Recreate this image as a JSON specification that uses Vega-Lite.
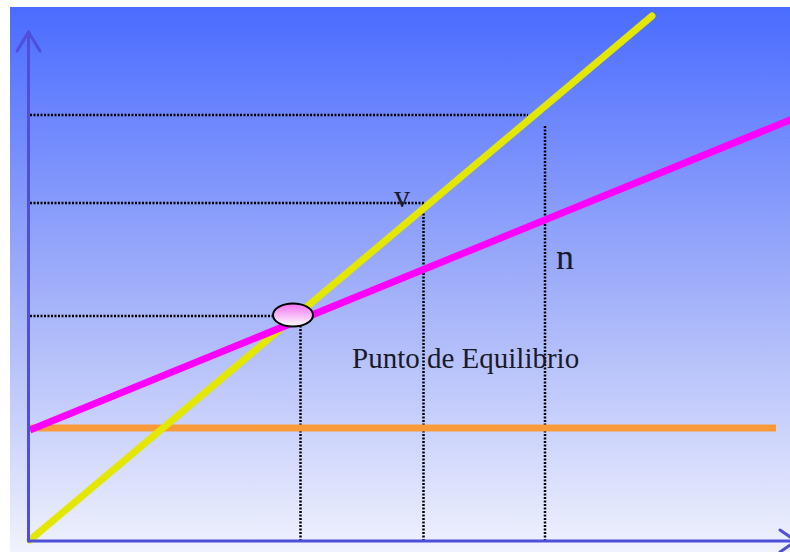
{
  "$schema": "https://vega.github.io/schema/vega-lite/v6.json",
  "width": 790,
  "height": 552,
  "autosize": {"type": "none"},
  "padding": 0,
  "background": "white",
  "config": {"view": {"stroke": null}},
  "encoding": {
    "x": {"field": "x", "type": "quantitative", "scale": {"domain": [-30, 760], "nice": false, "zero": false}, "axis": null},
    "y": {"field": "y", "type": "quantitative", "scale": {"domain": [-11, 541], "nice": false, "zero": false}, "axis": null}
  },
  "layer": [
    {
      "data": {"values": [{"x": -20, "x2": 760, "y": -11, "y2": 534}]},
      "mark": {"type": "rect", "fill": {"gradient": "linear", "x1": 0, "y1": 0, "x2": 0, "y2": 1, "stops": [{"offset": 0, "color": "#4a6cff"}, {"offset": 0.5, "color": "#9eadf9"}, {"offset": 1, "color": "#f0f2fd"}]}},
      "encoding": {"x2": {"field": "x2"}, "y2": {"field": "y2"}}
    },
    {
      "data": {"values": [
        {"x": 0, "y": 426, "x2": 498, "y2": 426},
        {"x": 0, "y": 338, "x2": 394, "y2": 338},
        {"x": 0, "y": 225, "x2": 245, "y2": 225},
        {"x": 270.5, "y": 0, "x2": 270.5, "y2": 215},
        {"x": 393.5, "y": 0, "x2": 393.5, "y2": 338},
        {"x": 515, "y": 0, "x2": 515, "y2": 415}
      ]},
      "mark": {"type": "rule", "color": "black", "strokeWidth": 2.5, "strokeDash": [2, 1.5]},
      "encoding": {"x2": {"field": "x2"}, "y2": {"field": "y2"}}
    },
    {
      "data": {"values": [{"x": 0, "y": 113, "x2": 746, "y2": 113}]},
      "mark": {"type": "rule", "color": "#f99b3b", "strokeWidth": 7},
      "encoding": {"x2": {"field": "x2"}, "y2": {"field": "y2"}}
    },
    {
      "data": {"values": [{"x": 0, "y": 1, "x2": 622, "y2": 525}]},
      "mark": {"type": "rule", "color": "#e4e800", "strokeWidth": 7, "strokeCap": "round"},
      "encoding": {"x2": {"field": "x2"}, "y2": {"field": "y2"}}
    },
    {
      "data": {"values": [{"x": 0, "y": 111, "x2": 765, "y2": 423}]},
      "mark": {"type": "rule", "color": "#ff00ff", "strokeWidth": 7},
      "encoding": {"x2": {"field": "x2"}, "y2": {"field": "y2"}}
    },
    {
      "data": {"values": [
        {"x": -1.5, "y": 0, "x2": -1.5, "y2": 509},
        {"x": -13, "y": 490, "x2": -1.5, "y2": 509},
        {"x": 10, "y": 490, "x2": -1.5, "y2": 509},
        {"x": -1.5, "y": 0, "x2": 766, "y2": 0},
        {"x": 750, "y": 11, "x2": 766, "y2": 0},
        {"x": 750, "y": -11, "x2": 766, "y2": 0}
      ]},
      "mark": {"type": "rule", "color": "#4f4fd8", "strokeWidth": 3, "strokeCap": "round"},
      "encoding": {"x2": {"field": "x2"}, "y2": {"field": "y2"}}
    },
    {
      "data": {"values": [{"x": 263, "y": 226}]},
      "mark": {"type": "point", "filled": true, "size": 1600, "shape": "M -1 0 A 1 0.575 0 1 0 1 0 A 1 0.575 0 1 0 -1 0 Z", "opacity": 1, "stroke": "black", "strokeWidth": 2, "fill": {"gradient": "linear", "x1": 0, "y1": 0, "x2": 0, "y2": 1, "stops": [{"offset": 0, "color": "#f070f0"}, {"offset": 1, "color": "#ffffff"}]}}
    },
    {
      "data": {"values": [{"x": 372, "y": 334, "label": "v"}]},
      "mark": {"type": "text", "font": "Liberation Serif", "fontSize": 32, "align": "center", "color": "#1a1a2a", "baseline": "alphabetic"},
      "encoding": {"text": {"field": "label"}}
    },
    {
      "data": {"values": [{"x": 535, "y": 272, "label": "n"}]},
      "mark": {"type": "text", "font": "Liberation Serif", "fontSize": 36, "align": "center", "color": "#1a1a2a", "baseline": "alphabetic"},
      "encoding": {"text": {"field": "label"}}
    },
    {
      "data": {"values": [{"x": 322, "y": 173, "label": "Punto de Equilibrio"}]},
      "mark": {"type": "text", "font": "Liberation Serif", "fontSize": 29, "align": "left", "color": "#1a1a2a", "baseline": "alphabetic"},
      "encoding": {"text": {"field": "label"}}
    }
  ]
}
